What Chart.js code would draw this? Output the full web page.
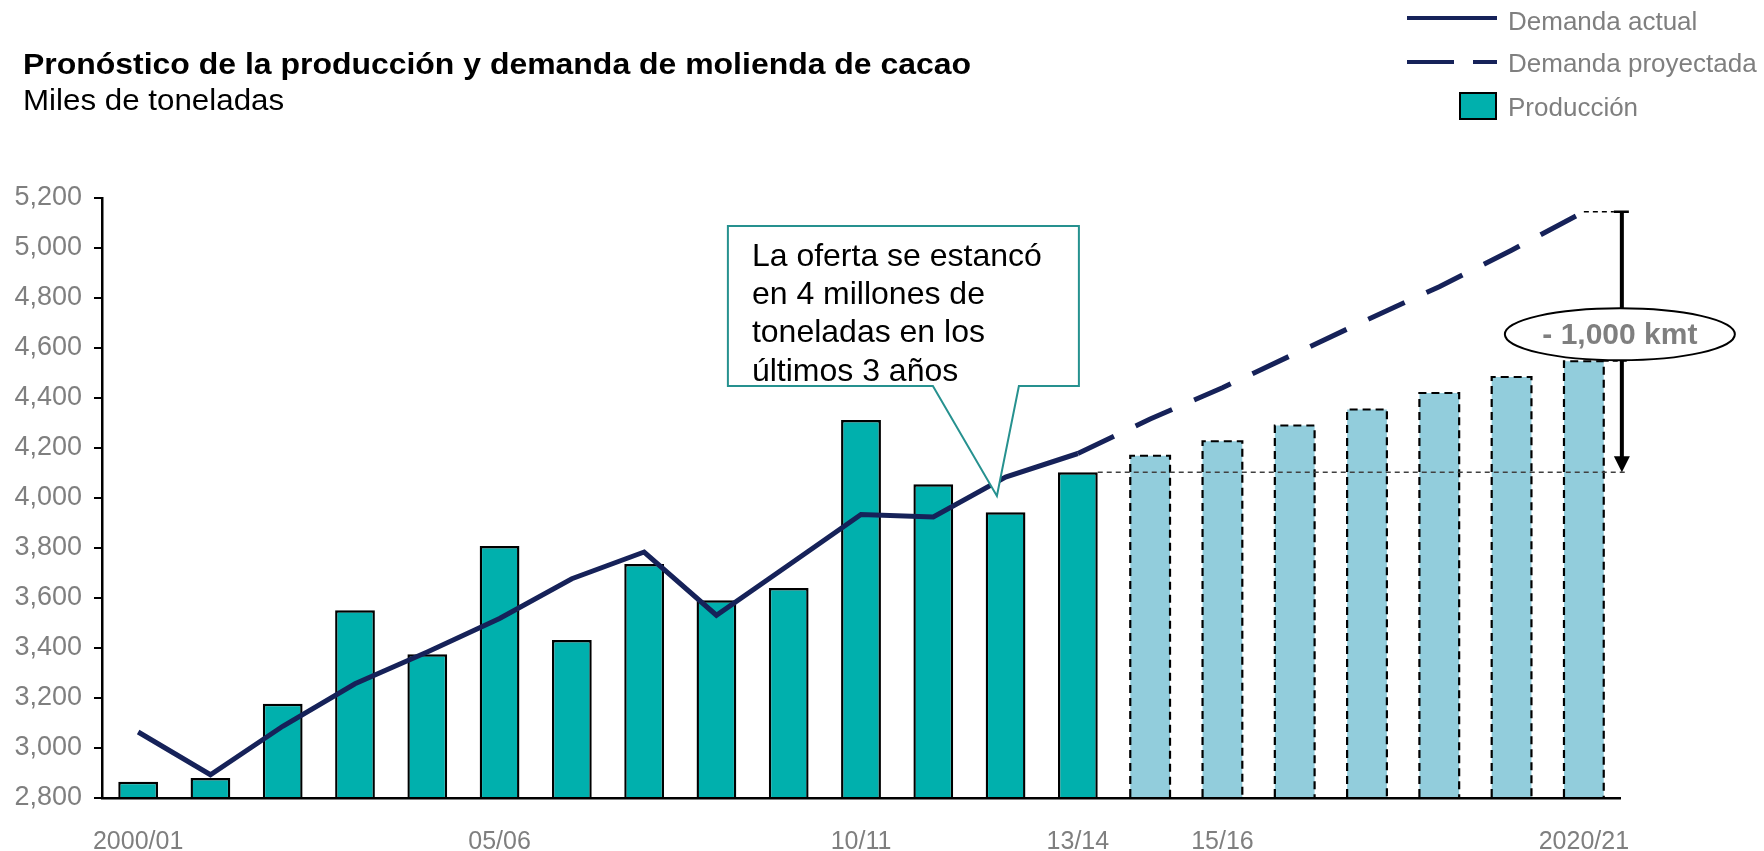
<!DOCTYPE html>
<html>
<head>
<meta charset="utf-8">
<script src="https://cdn.jsdelivr.net/npm/chart.js@4.4.1/dist/chart.umd.min.js"></script>
<style>
  body { margin: 0; background: #fff; font-family: 'Liberation Sans', Arial, sans-serif; }
  #wrap { position: relative; width: 1764px; height: 851px; overflow: hidden; }
  #chart { position: absolute; left: 0; top: 0; }
  .title { position: absolute; left: 23px; top: 49px; font-size: 30px; font-weight: bold; color: #000; line-height: 30px; white-space: nowrap; transform: scaleX(1.065); transform-origin: 0 0; }
  .subtitle { position: absolute; left: 23px; top: 86px; font-size: 29px; color: #000; line-height: 29px; white-space: nowrap; transform: scaleX(1.08); transform-origin: 0 0; }
  .lg-text { position: absolute; left: 1508px; font-size: 26px; color: #7f7f7f; line-height: 26px; white-space: nowrap; }
  .lg-line { position: absolute; height: 4px; background: #162259; }
  .lg-box { position: absolute; left: 1459px; top: 92px; width: 34px; height: 24px; background: #00b0ad; border: 2px solid #000; }
</style>
</head>
<body>
<div id="wrap">
  <canvas id="chart" width="1764" height="851"></canvas>
  <div class="title">Pronóstico de la producción y demanda de molienda de cacao</div>
  <div class="subtitle">Miles de toneladas</div>

  <div class="lg-line" style="left:1407px; top:16px; width:90px;"></div>
  <div class="lg-text" style="top:8px;">Demanda actual</div>
  <div class="lg-line" style="left:1407px; top:60px; width:47px;"></div>
  <div class="lg-line" style="left:1473px; top:60px; width:24px;"></div>
  <div class="lg-text" style="top:50px;">Demanda proyectada</div>
  <div class="lg-box"></div>
  <div class="lg-text" style="top:94px;">Producción</div>
</div>

<script>
// categories (crop years)
const years = ['2000/01', '01/02', '02/03', '03/04', '04/05', '05/06', '06/07', '07/08', '08/09', '09/10',
    '10/11', '11/12', '12/13', '13/14', '14/15', '15/16', '16/17', '17/18', '18/19', '19/20', '2020/21'];
// only these show up under the axis
const shownYears = ['2000/01', '05/06', '10/11', '13/14', '15/16', '2020/21'];

// production (thousand tonnes), actual 2000/01 - 13/14
const production = [2865, 2880, 3177, 3551, 3375, 3808, 3432, 3736, 3591, 3640, 4312, 4055, 3943, 4103];
// production forecast 14/15 - 2020/21
const productionForecast = [4169, 4227, 4290, 4354, 4420, 4484, 4547];

// grinding demand, actual 2000/01 - 13/14
const demand = [3064, 2893, 3087, 3257, 3384, 3518, 3677, 3784, 3531, 3732, 3934, 3924, 4084, 4178];
// projected demand 13/14 - 2020/21 (starts on last actual point)
const demandForecast = [4178, 4316, 4441, 4577, 4713, 4845, 4991, 5145];

const yTicks = { min: 2800, max: 5200, step: 200 };

const NAVY = '#162259';
const TEAL = '#00b0ad';
const LIGHT = '#92cddc';
const GREY = '#7f7f7f';
const FONT = "'Liberation Sans', Arial, sans-serif";

const n = years.length;
const pad = (arr, start) => years.map((_, i) => (i >= start && i - start < arr.length) ? arr[i - start] : null);

const prodData = pad(production, 0);
const prodFcData = pad(productionForecast, production.length);
const demData = pad(demand, 0);
const demFcData = pad(demandForecast, demand.length - 1);

// extra drawing: dashed borders on forecast bars, callout box, gap marker
const extras = {
    id: 'extras',
    afterDatasetDraw(chart, args) {
        if (args.index !== 1) return;
        const ctx = chart.ctx;
        ctx.save();
        ctx.setLineDash([8, 5]);
        ctx.lineWidth = 2.2;
        ctx.strokeStyle = '#000';
        args.meta.data.forEach((bar, i) => {
            if (prodFcData[i] === null) return;
            const l = bar.x - bar.width / 2, r = bar.x + bar.width / 2;
            const b = Math.min(bar.base, chart.chartArea.bottom);
            ctx.beginPath();
            ctx.moveTo(l, b);
            ctx.lineTo(l, bar.y);
            ctx.lineTo(r, bar.y);
            ctx.lineTo(r, b);
            ctx.stroke();
        });
        ctx.restore();
    },
    afterDraw(chart) {
        const ctx = chart.ctx;
        const xs = chart.scales.x, ys = chart.scales.y;

        // callout box
        const tipX = xs.getPixelForValue(11.88);
        const tipY = ys.getPixelForValue(4008);
        const bl = tipX - 269, br = tipX + 82, bt = tipY - 270, bb = tipY - 110;
        ctx.save();
        ctx.fillStyle = '#fff';
        ctx.strokeStyle = '#26918f';
        ctx.lineWidth = 2;
        ctx.beginPath();
        ctx.moveTo(bl, bt);
        ctx.lineTo(br, bt);
        ctx.lineTo(br, bb);
        ctx.lineTo(tipX + 22, bb);
        ctx.lineTo(tipX, tipY);
        ctx.lineTo(tipX - 64, bb);
        ctx.lineTo(bl, bb);
        ctx.closePath();
        ctx.fill();
        ctx.stroke();
        ctx.fillStyle = '#000';
        ctx.font = '32px ' + FONT;
        ctx.textBaseline = 'middle';
        ['La oferta se estancó', 'en 4 millones de', 'toneladas en los', 'últimos 3 años']
            .forEach((t, i) => ctx.fillText(t, bl + 24, bt + 31 + i * 38.3));
        ctx.restore();

        // gap marker on the right
        const last = n - 1;
        const lastBar = chart.getDatasetMeta(1).data[last];
        const ax = lastBar.x + 38;
        const topY = ys.getPixelForValue(demandForecast[demandForecast.length - 1]);
        const baseY = ys.getPixelForValue(production[production.length - 1]);
        const lastProdBar = chart.getDatasetMeta(0).data[production.length - 1];

        ctx.save();
        ctx.strokeStyle = '#404040';
        ctx.lineWidth = 1.5;
        ctx.setLineDash([5, 4]);
        ctx.beginPath();
        ctx.moveTo(lastProdBar.x + lastProdBar.width / 2, baseY);
        ctx.lineTo(ax + 6, baseY);
        ctx.moveTo(lastBar.x + lastBar.width / 2, lastBar.y);
        ctx.lineTo(ax + 6, lastBar.y);
        ctx.stroke();
        ctx.strokeStyle = '#000';
        ctx.beginPath();
        ctx.moveTo(lastBar.x, topY);
        ctx.lineTo(ax - 8, topY);
        ctx.stroke();
        ctx.setLineDash([]);
        ctx.lineWidth = 2.5;
        ctx.beginPath();
        ctx.moveTo(ax - 8, topY);
        ctx.lineTo(ax + 7, topY);
        ctx.stroke();

        const ey = lastBar.y - 27;
        ctx.lineWidth = 4;
        ctx.beginPath();
        ctx.moveTo(ax, topY);
        ctx.lineTo(ax, ey - 26);
        ctx.moveTo(ax, ey + 26);
        ctx.lineTo(ax, baseY - 14);
        ctx.stroke();
        ctx.fillStyle = '#000';
        ctx.beginPath();
        ctx.moveTo(ax - 8, baseY - 16);
        ctx.lineTo(ax + 8, baseY - 16);
        ctx.lineTo(ax, baseY);
        ctx.closePath();
        ctx.fill();

        ctx.lineWidth = 2;
        ctx.fillStyle = '#fff';
        ctx.beginPath();
        ctx.ellipse(ax - 2, ey, 115, 26, 0, 0, Math.PI * 2);
        ctx.fill();
        ctx.stroke();
        ctx.fillStyle = GREY;
        ctx.font = 'bold 30px ' + FONT;
        ctx.textAlign = 'center';
        ctx.textBaseline = 'middle';
        ctx.fillText('- 1,000 kmt', ax - 2, ey + 1);
        ctx.restore();
    }
};

const chartCtx = document.getElementById('chart').getContext('2d');

new Chart(chartCtx, {
    type: 'bar',
    data: {
        labels: years,
        datasets: [
            {
                label: 'Producción',
                data: prodData,
                base: yTicks.min,
                backgroundColor: TEAL,
                borderColor: '#000',
                borderWidth: 2.4,
                grouped: false,
                barPercentage: 0.55,
                categoryPercentage: 1,
                order: 2
            },
            {
                label: 'Producción proyectada',
                data: prodFcData,
                base: yTicks.min,
                backgroundColor: LIGHT,
                borderWidth: 0,
                grouped: false,
                barPercentage: 0.55,
                categoryPercentage: 1,
                order: 2
            },
            {
                type: 'line',
                label: 'Demanda actual',
                data: demData,
                borderColor: NAVY,
                borderWidth: 5,
                pointRadius: 0,
                tension: 0,
                order: 1
            },
            {
                type: 'line',
                label: 'Demanda proyectada',
                data: demFcData,
                borderColor: NAVY,
                borderWidth: 5,
                borderDash: [40, 24],
                pointRadius: 0,
                tension: 0,
                order: 1
            }
        ]
    },
    options: {
        responsive: false,
        animation: false,
        layout: { padding: { top: 198, right: 144, left: 0, bottom: 0 } },
        plugins: {
            legend: { display: false },
            tooltip: { enabled: false }
        },
        scales: {
            x: {
                grid: { display: false },
                border: { display: true, color: '#000', width: 2.5 },
                ticks: {
                    autoSkip: false,
                    maxRotation: 0,
                    padding: 21,
                    color: GREY,
                    font: { family: FONT, size: 25 },
                    callback: (v, i) => shownYears.includes(years[i]) ? years[i] : ''
                },
                afterFit: (s) => { s.height = 53; }
            },
            y: {
                min: yTicks.min,
                max: yTicks.max,
                ticks: {
                    stepSize: yTicks.step,
                    padding: 12,
                    color: GREY,
                    font: { family: FONT, size: 27 },
                    callback: (v) => v.toLocaleString('en-US')
                },
                grid: { drawOnChartArea: false, drawTicks: true, tickLength: 8, color: '#000', lineWidth: 2 },
                border: { display: true, color: '#000', width: 2.5 },
                afterFit: (s) => { s.width = 102; }
            }
        }
    },
    plugins: [extras]
});
</script>
</body>
</html>
